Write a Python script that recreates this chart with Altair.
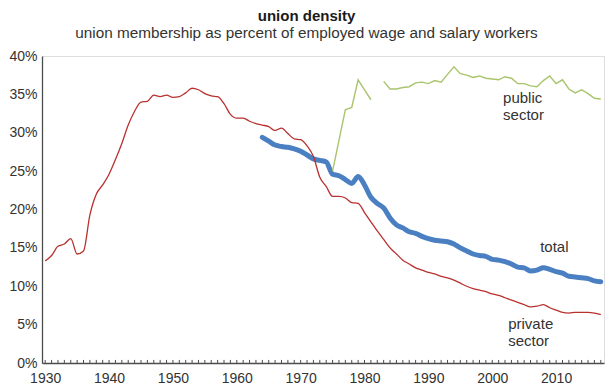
import altair as alt
import pandas as pd

# ---------------- data ----------------
years_private = list(range(1930, 2018))
private = [
    13.3, 14.0, 15.2, 15.5, 16.2, 14.2, 14.6, 19.3, 22.0, 23.2,   # 1930-1939
    24.6, 26.5, 28.6, 31.0, 32.8, 34.0, 34.1, 34.9, 34.7, 34.9,   # 1940-1949
    34.6, 34.7, 35.2, 35.8, 35.6, 35.1, 34.8, 34.7, 33.8, 32.4,   # 1950-1959
    31.9, 31.9, 31.5, 31.2, 31.0, 30.8, 30.3, 30.6, 29.9, 29.2,   # 1960-1969
    29.1, 28.3, 26.9, 24.2, 23.0, 21.7, 21.7, 21.5, 20.9, 20.8,   # 1970-1979
    19.6, 18.4, 17.2, 16.1, 15.0, 14.2, 13.4, 12.9, 12.4, 12.1,   # 1980-1989
    11.8, 11.6, 11.3, 11.1, 10.8, 10.4, 10.0, 9.7, 9.5, 9.3,      # 1990-1999
    9.0, 8.8, 8.5, 8.2, 7.9, 7.6, 7.3, 7.4, 7.6, 7.2,             # 2000-2009
    6.9, 6.6, 6.5, 6.6, 6.6, 6.6, 6.5, 6.3,                       # 2010-2017
]

years_total = list(range(1964, 2018))
total = [
    29.4, 28.9, 28.4, 28.2, 28.1, 27.9,                           # 1964-1969
    27.6, 27.1, 26.6, 26.4, 26.2, 24.6, 24.4, 23.9, 23.4, 24.3,   # 1970-1979
    23.2, 21.6, 20.8, 20.2, 18.9, 18.0, 17.6, 17.1, 16.9, 16.5,   # 1980-1989
    16.2, 16.0, 15.9, 15.8, 15.5, 15.0, 14.6, 14.2, 14.0, 13.9,   # 1990-1999
    13.5, 13.4, 13.2, 12.9, 12.5, 12.4, 12.0, 12.1, 12.4, 12.2,   # 2000-2009
    11.9, 11.7, 11.3, 11.2, 11.1, 11.0, 10.7, 10.6,               # 2010-2017
]

years_public_a = [1975, 1977, 1978, 1979, 1980, 1981]
public_a = [25.0, 33.0, 33.3, 36.9, 35.6, 34.3]

years_public_b = list(range(1983, 2018))
public_b = [
    36.7, 35.7, 35.7, 35.9, 36.0, 36.5, 36.6,                     # 1983-1989
    36.4, 36.8, 36.6, 37.6, 38.6, 37.7, 37.5, 37.2, 37.4, 37.1,   # 1990-1999
    37.0, 36.9, 37.3, 37.1, 36.4, 36.4, 36.1, 36.0, 36.8, 37.4,   # 2000-2009
    36.4, 36.9, 35.7, 35.2, 35.6, 35.1, 34.5, 34.4,               # 2010-2017
]

x_ticks = list(range(1930, 2011, 10))
y_ticks = list(range(0, 41, 5))
minor_years = list(range(1930, 2018))

label_text = ["public\nsector", "total", "private\nsector"]
label_year = [2001.7, 2007.5, 2002.5]
label_pct = [35.5, 16.0, 6.0]

# ---------------- tables ----------------
rows = []
for y, v in zip(years_private, private):
    rows.append({"series": "private", "segment": "p", "year": y, "pct": v})
for y, v in zip(years_total, total):
    rows.append({"series": "total", "segment": "t", "year": y, "pct": v})
for y, v in zip(years_public_a, public_a):
    rows.append({"series": "public", "segment": "a", "year": y, "pct": v})
for y, v in zip(years_public_b, public_b):
    rows.append({"series": "public", "segment": "b", "year": y, "pct": v})
df = pd.DataFrame(rows)

ticks_df = pd.DataFrame({"year": minor_years})
labels_df = pd.DataFrame({"text": label_text, "year": label_year, "pct": label_pct})

FONT = "Liberation Sans"
AXIS_COLOR = "#4d4d4d"

x_scale = alt.Scale(domain=[1929.5, 2017.5], nice=False, zero=False)
y_scale = alt.Scale(domain=[0, 40], nice=False)

x_axis = alt.Axis(values=x_ticks, format="d", title=None, ticks=False,
                  labelPadding=8, labelFontSize=14, labelFont=FONT,
                  labelColor="#333333", domainColor=AXIS_COLOR, domainWidth=1.3,
                  grid=False, labelFlush=False, labelOverlap=False)
y_axis = alt.Axis(values=y_ticks, labelExpr="datum.value + '%'", title=None,
                  ticks=False, labelPadding=5, labelFontSize=14, labelFont=FONT,
                  labelColor="#333333", domainColor=AXIS_COLOR, domainWidth=1.3,
                  grid=False, labelOverlap=False, labelFlush=False)


def X(field="year"):
    return alt.X(f"{field}:Q", scale=x_scale, axis=x_axis)


def Y(field="pct"):
    return alt.Y(f"{field}:Q", scale=y_scale, axis=y_axis)


base = alt.Chart(df)

total_line = base.transform_filter(alt.datum.series == "total").mark_line(
    color="#4a7fc2", strokeWidth=5, strokeCap="round", strokeJoin="round",
    interpolate="monotone"
).encode(x=X(), y=Y(), detail="segment:N")

private_line = base.transform_filter(alt.datum.series == "private").mark_line(
    color="#b8312f", strokeWidth=1.3, interpolate="monotone"
).encode(x=X(), y=Y(), detail="segment:N")

public_line = base.transform_filter(alt.datum.series == "public").mark_line(
    color="#a9c46c", strokeWidth=1.4
).encode(x=X(), y=Y(), detail="segment:N")

labels = alt.Chart(labels_df).mark_text(
    align="left", baseline="top", font=FONT, fontSize=15, color="#333333",
    lineBreak="\n", lineHeight=17
).encode(x=X(), y=Y(), text="text:N")

minor = alt.Chart(ticks_df).mark_rule(color=AXIS_COLOR, strokeWidth=1).encode(
    x=X(),
    y=alt.YDatum(0, scale=y_scale, axis=y_axis),
    y2=alt.Y2Datum(0.4),
)

chart = alt.layer(total_line, private_line, public_line, labels, minor).properties(
    width=562,
    height=307,
    autosize=alt.AutoSizeParams(type="none"),
    padding={"left": 34, "top": 48, "right": 4, "bottom": 21},
    title=alt.Title(
        "union density",
        subtitle="union membership as percent of employed wage and salary workers",
        anchor="middle", frame="bounds", font=FONT, fontSize=15, fontWeight="bold",
        color="#1a1a1a", subtitleFont=FONT, subtitleFontSize=15.3,
        subtitleColor="#333333", subtitlePadding=2, offset=8,
    ),
).configure_view(stroke=None).configure(background="white")

chart.save("out.html", embed_options={"renderer": "svg", "actions": False})
